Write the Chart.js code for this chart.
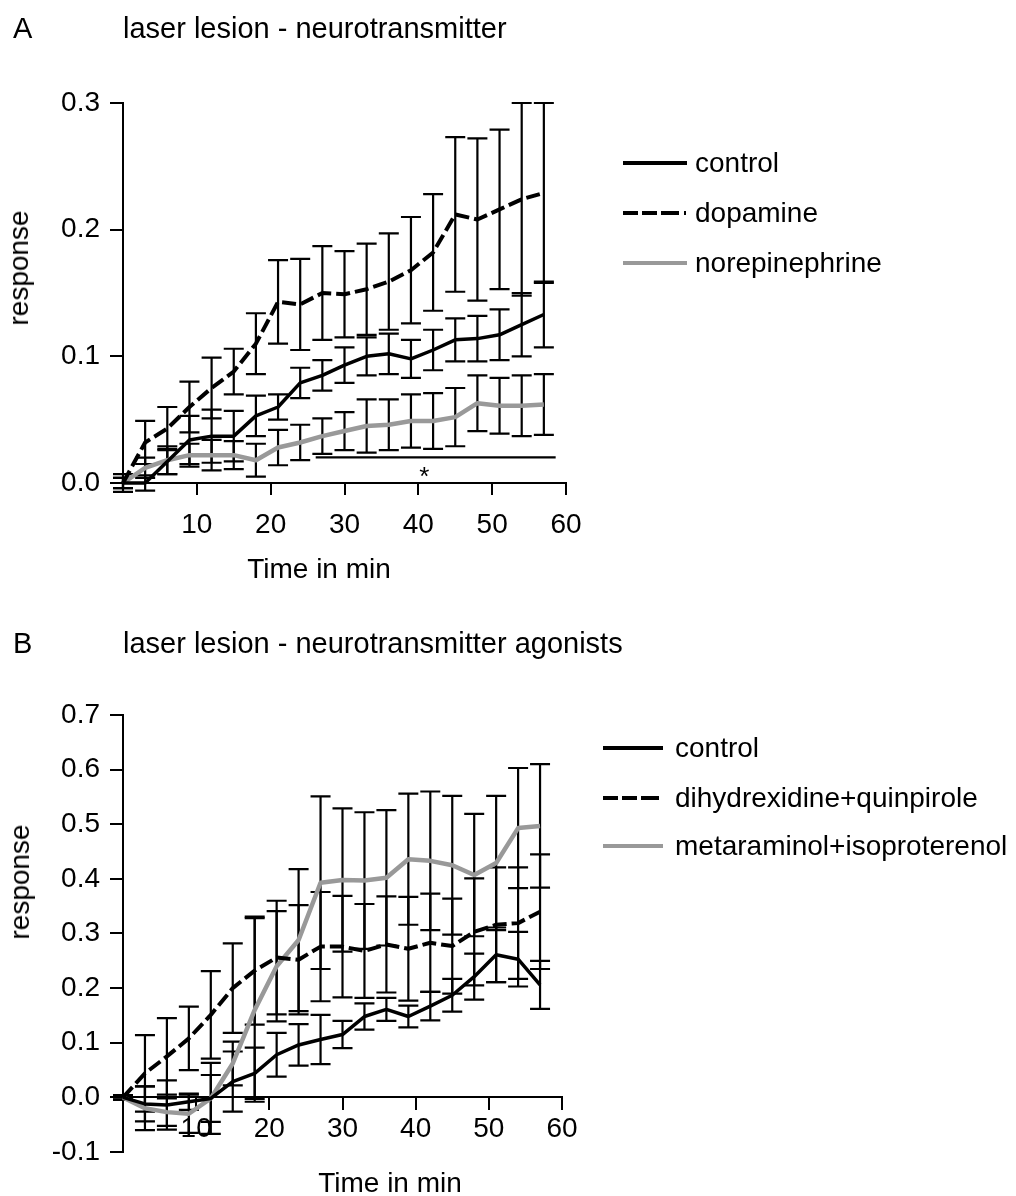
<!DOCTYPE html>
<html>
<head>
<meta charset="utf-8">
<script src="https://cdn.jsdelivr.net/npm/chart.js@4.4.1/dist/chart.umd.min.js"></script>
<style>
  body { margin:0; background:#fff; }
  #wrap { position:relative; width:1016px; height:1196px; overflow:hidden; background:#fff; }
  canvas { position:absolute; left:0; }
  .txt { position:absolute; font-family:'Liberation Sans', Arial, sans-serif; color:#000; white-space:nowrap; }
  .legrow { position:absolute; display:flex; align-items:center; font-family:'Liberation Sans', Arial, sans-serif; font-size:28px; color:#000; white-space:nowrap; height:34px; }
</style>
</head>
<body>
<div id="wrap">
  <canvas id="cA" width="1016" height="598" style="top:0"></canvas>
  <canvas id="cB" width="1016" height="598" style="top:598px"></canvas>
</div>
<script>
// ---------------- DATA ----------------
const timesA = [0, 3, 6, 9, 12, 15, 18, 21, 24, 27, 30, 33, 36, 39, 42, 45, 48, 51, 54, 57];
const controlA    = [0, 0.000, 0.017, 0.034, 0.037, 0.037, 0.053, 0.060, 0.079, 0.085, 0.093, 0.100, 0.102, 0.098, 0.105, 0.113, 0.114, 0.117, 0.125, 0.133];
const controlErrA = [0.007, 0.006, 0.010, 0.019, 0.021, 0.020, 0.016, 0.010, 0.012, 0.012, 0.014, 0.015, 0.016, 0.015, 0.016, 0.017, 0.018, 0.020, 0.025, 0.026];
const dopamineA    = [0, 0.032, 0.043, 0.060, 0.075, 0.088, 0.110, 0.143, 0.141, 0.150, 0.149, 0.153, 0.159, 0.168, 0.182, 0.212, 0.208, 0.216, 0.224, 0.229];
const dopamineErrA = [0.004, 0.017, 0.017, 0.020, 0.024, 0.018, 0.024, 0.033, 0.036, 0.037, 0.034, 0.036, 0.038, 0.042, 0.046, 0.061, 0.064, 0.063, 0.076, 0.071];
const norepiA    = [0, 0.012, 0.018, 0.022, 0.022, 0.022, 0.018, 0.028, 0.032, 0.037, 0.041, 0.045, 0.046, 0.049, 0.049, 0.052, 0.063, 0.061, 0.061, 0.062];
const norepiErrA = [0.004, 0.008, 0.011, 0.009, 0.012, 0.011, 0.013, 0.014, 0.014, 0.014, 0.015, 0.021, 0.020, 0.021, 0.022, 0.023, 0.022, 0.022, 0.024, 0.024];
const sigLineX = [26.1, 58.6];
const sigLineY = 0.0203;
const sigStar = { x: 40.8, y: 0.0103, text: '*' };
const namesA = ['control', 'dopamine', 'norepinephrine'];

const timesB = [0, 3, 6, 9, 12, 15, 18, 21, 24, 27, 30, 33, 36, 39, 42, 45, 48, 51, 54, 57];
const controlB    = [0, -0.012, -0.014, -0.008, -0.002, 0.029, 0.044, 0.078, 0.096, 0.106, 0.115, 0.148, 0.161, 0.148, 0.167, 0.187, 0.221, 0.261, 0.253, 0.206];
const controlErrB = [0.004, 0.032, 0.045, 0.015, 0.043, 0.055, 0.047, 0.040, 0.038, 0.045, 0.025, 0.024, 0.021, 0.020, 0.026, 0.030, 0.042, 0.050, 0.050, 0.044];
const dihydB    = [0, 0.044, 0.075, 0.108, 0.151, 0.200, 0.232, 0.256, 0.252, 0.276, 0.276, 0.268, 0.280, 0.272, 0.283, 0.277, 0.303, 0.316, 0.319, 0.340];
const dihydErrB = [0.004, 0.070, 0.070, 0.058, 0.080, 0.082, 0.099, 0.104, 0.100, 0.100, 0.093, 0.086, 0.088, 0.095, 0.090, 0.087, 0.098, 0.105, 0.102, 0.105];
const metaB    = [0, -0.020, -0.027, -0.030, -0.002, 0.062, 0.160, 0.240, 0.288, 0.393, 0.398, 0.397, 0.402, 0.436, 0.433, 0.425, 0.407, 0.429, 0.493, 0.497];
const metaErrB = [0.004, 0.040, 0.025, 0.035, 0.065, 0.040, 0.168, 0.101, 0.130, 0.158, 0.131, 0.125, 0.124, 0.120, 0.127, 0.127, 0.112, 0.123, 0.110, 0.113];
const namesB = ['control', 'dihydrexidine+quinpirole', 'metaraminol+isoproterenol'];

const yTicksA = [0, 0.1, 0.2, 0.3];
const yTicksB = [-0.1, 0, 0.1, 0.2, 0.3, 0.4, 0.5, 0.6, 0.7];
const xTicks = [10, 20, 30, 40, 50, 60];

// ---------------- STYLE ----------------
const FONT = "'Liberation Sans', Arial, sans-serif";
const GRAY = '#999999';
const DASH = [14, 5];
Chart.defaults.font.family = FONT;
Chart.defaults.color = '#000';

function pts(xs, ys) { return xs.map((x, i) => ({ x: x, y: ys[i] })); }
function fmt(v) { return Math.abs(v) < 1e-9 ? '0.0' : Number(v).toFixed(1); }

const errorBars = {
  id: 'errorBars',
  beforeDatasetsDraw(chart) {
    const ctx = chart.ctx, xs = chart.scales.x, ys = chart.scales.y;
    chart.data.datasets.forEach(ds => {
      if (!ds.errors) return;
      ctx.save();
      ctx.strokeStyle = '#000';
      ctx.lineWidth = 2.2;
      ds.data.forEach((p, i) => {
        const e = ds.errors[i];
        const x = xs.getPixelForValue(p.x);
        const y1 = ys.getPixelForValue(p.y + e);
        const y2 = ys.getPixelForValue(p.y - e);
        ctx.beginPath();
        ctx.moveTo(x, y1); ctx.lineTo(x, y2);
        ctx.moveTo(x - 10, y1); ctx.lineTo(x + 10, y1);
        ctx.moveTo(x - 10, y2); ctx.lineTo(x + 10, y2);
        ctx.stroke();
      });
      ctx.restore();
    });
  },
  afterDatasetsDraw(chart) {
    const star = chart.options.plugins.errorBars && chart.options.plugins.errorBars.star;
    if (!star) return;
    const ctx = chart.ctx;
    const x = chart.scales.x.getPixelForValue(star.x);
    const y = chart.scales.y.getPixelForValue(star.y);
    ctx.save();
    ctx.font = '26px ' + FONT;
    ctx.fillStyle = '#000';
    ctx.textAlign = 'center';
    ctx.textBaseline = 'alphabetic';
    ctx.fillText(star.text, x, y + 0.57 * 26);
    ctx.restore();
  }
};

function lineDs(label, xs, ys, errs, color, width, dash) {
  return {
    label: label, data: pts(xs, ys), errors: errs,
    borderColor: color, backgroundColor: color, borderWidth: width,
    borderDash: dash || [], pointRadius: 0, tension: 0, clip: false, fill: false,
    borderJoinStyle: 'round',
    legendColor: color, legendWidth: width, legendDash: dash || []
  };
}

function axisCommon(ticksList) {
  return {
    grid: { drawOnChartArea: false, color: '#000', lineWidth: 2, tickLength: 13 },
    border: { color: '#000', width: 2 },
    afterBuildTicks: s => { s.ticks = ticksList.map(v => ({ value: v })); }
  };
}

function makeOptions(cfg) {
  const yAx = axisCommon(cfg.yTicks);
  yAx.min = cfg.yMin; yAx.max = cfg.yMax;
  yAx.ticks = { font: { size: 28 }, padding: 10, color: '#000', callback: v => fmt(v) };
  yAx.afterFit = s => { s.width = 123; };
  const xAx = axisCommon(xTicks);
  xAx.type = 'linear'; xAx.min = 0; xAx.max = 60;
  xAx.position = cfg.xPos;
  xAx.grid.tickLength = 12;
  xAx.ticks = { font: { size: 28 }, padding: cfg.xPad, color: '#000', maxRotation: 0, autoSkip: false, callback: v => String(v) };
  xAx.afterFit = s => { s.height = 60; };
  return {
    responsive: false, animation: false, devicePixelRatio: 1,
    layout: { padding: cfg.padding },
    plugins: { legend: { display: false }, tooltip: { enabled: false }, errorBars: { star: cfg.star } },
    scales: { x: xAx, y: yAx }
  };
}

// ---------------- PANEL A ----------------
const dsA = [
  lineDs(namesA[0], timesA, controlA, controlErrA, '#000', 3.5, null),
  lineDs(namesA[1], timesA, dopamineA, dopamineErrA, '#000', 4, DASH),
  lineDs(namesA[2], timesA, norepiA, norepiErrA, GRAY, 4.5, null),
  { label: '', data: pts(sigLineX, [sigLineY, sigLineY]), borderColor: '#000', borderWidth: 2.2, pointRadius: 0, clip: false, noLegend: true }
];
const chartA = new Chart(document.getElementById('cA'), {
  type: 'line',
  data: { datasets: dsA },
  options: makeOptions({ yMin: 0, yMax: 0.3, yTicks: yTicksA, xPos: 'bottom', xPad: 13,
    padding: { left: 0, top: 103, right: 450, bottom: 55 }, star: sigStar }),
  plugins: [errorBars]
});

// ---------------- PANEL B ----------------
const dsB = [
  lineDs(namesB[0], timesB, controlB, controlErrB, '#000', 3.5, null),
  lineDs(namesB[1], timesB, dihydB, dihydErrB, '#000', 4, DASH),
  lineDs(namesB[2], timesB, metaB, metaErrB, GRAY, 4.5, null)
];
const chartB = new Chart(document.getElementById('cB'), {
  type: 'line',
  data: { datasets: dsB },
  options: makeOptions({ yMin: -0.1, yMax: 0.7, yTicks: yTicksB, xPos: { y: 0 }, xPad: 3,
    padding: { left: 0, top: 117, right: 454, bottom: 44 }, star: null }),
  plugins: [errorBars]
});

// ---------------- TEXT (titles, axis titles, legends) ----------------
const wrap = document.getElementById('wrap');
function addText(str, left, cy, size, opts) {
  const d = document.createElement('div');
  d.className = 'txt';
  d.textContent = str;
  d.style.fontSize = size + 'px';
  d.style.lineHeight = (size + 6) + 'px';
  d.style.top = (cy - (size + 6) / 2) + 'px';
  d.style.left = left + 'px';
  if (opts && opts.center) {
    d.style.transform = 'translateX(-50%)' + (opts.rotate ? ' rotate(-90deg)' : '');
  }
  wrap.appendChild(d);
  return d;
}
addText('A', 13, 28, 29);
addText('laser lesion - neurotransmitter', 123, 28, 29);
addText('B', 13, 643, 29);
addText('laser lesion - neurotransmitter agonists', 123, 643, 29);
addText('Time in min', 319, 569, 28, { center: true });
addText('Time in min', 390, 1183, 28, { center: true });
addText('response', 19, 268, 28, { center: true, rotate: true });
addText('response', 20, 882, 28, { center: true, rotate: true });

function addLegend(chart, lineLeft, lineLen, textGap, ys) {
  const items = chart.data.datasets.filter(d => !d.noLegend);
  items.forEach((ds, i) => {
    const row = document.createElement('div');
    row.className = 'legrow';
    row.style.left = lineLeft + 'px';
    row.style.top = (ys[i] - 17) + 'px';
    const svgNS = 'http://www.w3.org/2000/svg';
    const svg = document.createElementNS(svgNS, 'svg');
    svg.setAttribute('width', lineLen);
    svg.setAttribute('height', 34);
    const ln = document.createElementNS(svgNS, 'line');
    ln.setAttribute('x1', 0); ln.setAttribute('x2', lineLen);
    ln.setAttribute('y1', 17); ln.setAttribute('y2', 17);
    ln.setAttribute('stroke', ds.legendColor);
    ln.setAttribute('stroke-width', 4);
    if (ds.legendDash.length) ln.setAttribute('stroke-dasharray', '15 4 15 4 18 5 2 10');
    svg.appendChild(ln);
    row.appendChild(svg);
    const sp = document.createElement('span');
    sp.textContent = ds.label;
    sp.style.marginLeft = textGap + 'px';
    row.appendChild(sp);
    wrap.appendChild(row);
  });
}
addLegend(chartA, 623, 64, 8, [163, 213, 263]);
addLegend(chartB, 603, 60, 12, [748, 798, 846]);
</script>
</body>
</html>
